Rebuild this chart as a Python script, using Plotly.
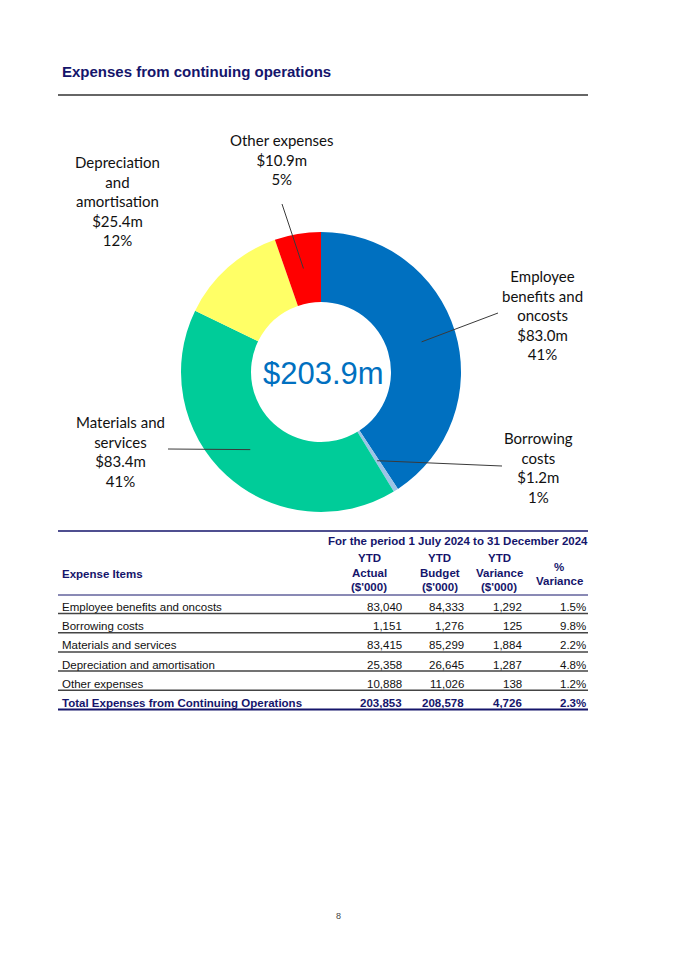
import math
import plotly.graph_objects as go

# ---------------- data ----------------
categories = ["Employee benefits and oncosts", "Borrowing costs", "Materials and services",
              "Depreciation and amortisation", "Other expenses"]
donut_names = ["Employee<br>benefits and<br>oncosts", "Borrowing<br>costs", "Materials and<br>services",
               "Depreciation<br>and<br>amortisation", "Other expenses"]
ytd_actual = [83040, 1151, 83415, 25358, 10888]
ytd_budget = [84333, 1276, 85299, 26645, 11026]
ytd_variance = [1292, 125, 1884, 1287, 138]
pct_variance = [1.5, 9.8, 2.2, 4.8, 1.2]
total_label = "Total Expenses from Continuing Operations"
total_actual = 203853
total_budget = 208578
total_variance = 4726
total_pct = 2.3
colors = ["#0070C0", "#9DC3E6", "#00CC99", "#FFFF66", "#FF0000"]
period_text = "For the period 1 July 2024 to 31 December 2024"
title_text = "Expenses from continuing operations"

# ---------------- layout helpers ----------------
OFF = 8  # page body margin
W, H = 675 - OFF, 954 - OFF
NAVY = "#15156B"


def X(x):
    return (x - OFF) / W


def Y(y):
    return 1 - (y - OFF) / H


CX, CY, R_OUT, R_IN = 321, 372, 140, 70

fig = go.Figure()
fig.add_trace(go.Pie(
    labels=categories, values=ytd_actual, sort=False, direction="clockwise", rotation=0,
    hole=R_IN / R_OUT, marker=dict(colors=colors, line=dict(width=0)),
    textinfo="none", hoverinfo="label+value", showlegend=False,
    domain=dict(x=[X(CX - R_OUT), X(CX + R_OUT)], y=[Y(CY + R_OUT), Y(CY - R_OUT)]),
))

annotations = []
shapes = []


def ann(x, y, text, xanchor, size, color, family="Liberation Sans, Arial", align="center"):
    annotations.append(dict(x=X(x), y=Y(y), xref="paper", yref="paper", xanchor=xanchor, yanchor="middle",
                            text=text, showarrow=False, align=align, borderpad=0, borderwidth=0,
                            font=dict(family=family, size=size, color=color)))


def hline(y, x0, x1, color, width):
    shapes.append(dict(type="line", xref="paper", yref="paper", x0=X(x0), x1=X(x1), y0=Y(y), y1=Y(y),
                       line=dict(color=color, width=width)))


# title and rule
ann(62, 72, "<b>%s</b>" % title_text, "left", 15, NAVY)
hline(95, 58, 588, "#666666", 2)

# centre total
ann(323, 374, "$%.1fm" % (total_actual / 1000), "center", 31, "#0070C0")

# donut labels and leader lines
label_pos = [(542, 315), (538, 468), (120, 451), (117, 201), (282, 159)]
leader_end = [(498, 313), (502, 466), (168, 449), None, (282, 204)]
total = sum(ytd_actual)
cum = 0
for i, v in enumerate(ytd_actual):
    mid = (cum + v / 2) / total
    cum += v
    ang = 2 * math.pi * mid
    r_mid = (R_IN + R_OUT) / 2
    ax = CX + r_mid * math.sin(ang)
    ay = CY - r_mid * math.cos(ang)
    pct = round(100 * v / total)
    txt = "%s<br>$%.1fm<br>%d%%" % (donut_names[i], v / 1000, pct)
    lx, ly = label_pos[i]
    ann(lx, ly, txt, "center", 15, "#111111", family="Lato")
    if leader_end[i] is not None:
        ex, ey = leader_end[i]
        shapes.append(dict(type="line", xref="paper", yref="paper", x0=X(ax), y0=Y(ay), x1=X(ex), y1=Y(ey),
                           line=dict(color="#3a3a3a", width=1)))

# ---------------- table ----------------
FS = 11.5
hline(531, 58, 588, NAVY, 1.5)
ann(588, 541, "<b>%s</b>" % period_text, "right", FS, NAVY)
headers = [("YTD", "Actual", "($'000)"), ("YTD", "Budget", "($'000)"), ("YTD", "Variance", "($'000)")]
hdr_x = [369, 440, 499]
for hx, trio in zip(hdr_x, headers):
    for yy, t in zip([558, 573, 587], trio):
        ann(hx, yy, "<b>%s</b>" % t, "center", FS, NAVY)
for yy, t in zip([567, 581], ["%", "Variance"]):
    ann(559, yy, "<b>%s</b>" % t, "center", FS, NAVY)
ann(62, 574, "<b>Expense Items</b>", "left", FS, NAVY)
hline(595, 58, 588, NAVY, 1)

col_right = [402, 464, 522, 586]
row_y0, row_step = 607, 19.2
rows = [(categories[i], "{:,}".format(ytd_actual[i]), "{:,}".format(ytd_budget[i]),
         "{:,}".format(ytd_variance[i]), "%.1f%%" % pct_variance[i], False) for i in range(len(categories))]
rows.append((total_label, "{:,}".format(total_actual), "{:,}".format(total_budget),
             "{:,}".format(total_variance), "%.1f%%" % total_pct, True))
for r, (name, a, b, c, d, bold) in enumerate(rows):
    yy = row_y0 + r * row_step
    col = NAVY if bold else "#111111"
    fmt = "<b>%s</b>" if bold else "%s"
    ann(62, yy, fmt % name, "left", FS, col)
    for cx, val in zip(col_right, [a, b, c, d]):
        ann(cx, yy, fmt % val, "right", FS, col)
    hline(yy + 6.5, 58, 588, NAVY if bold else "#444444", 2 if bold else 1.5)

# page number
ann(338, 916, "8", "center", 9, "#444444")

fig.update_layout(width=W, height=H, margin=dict(l=0, r=0, t=0, b=0), paper_bgcolor="white",
                  plot_bgcolor="white", annotations=annotations, shapes=shapes, showlegend=False)
fig.write_html("out.html")
